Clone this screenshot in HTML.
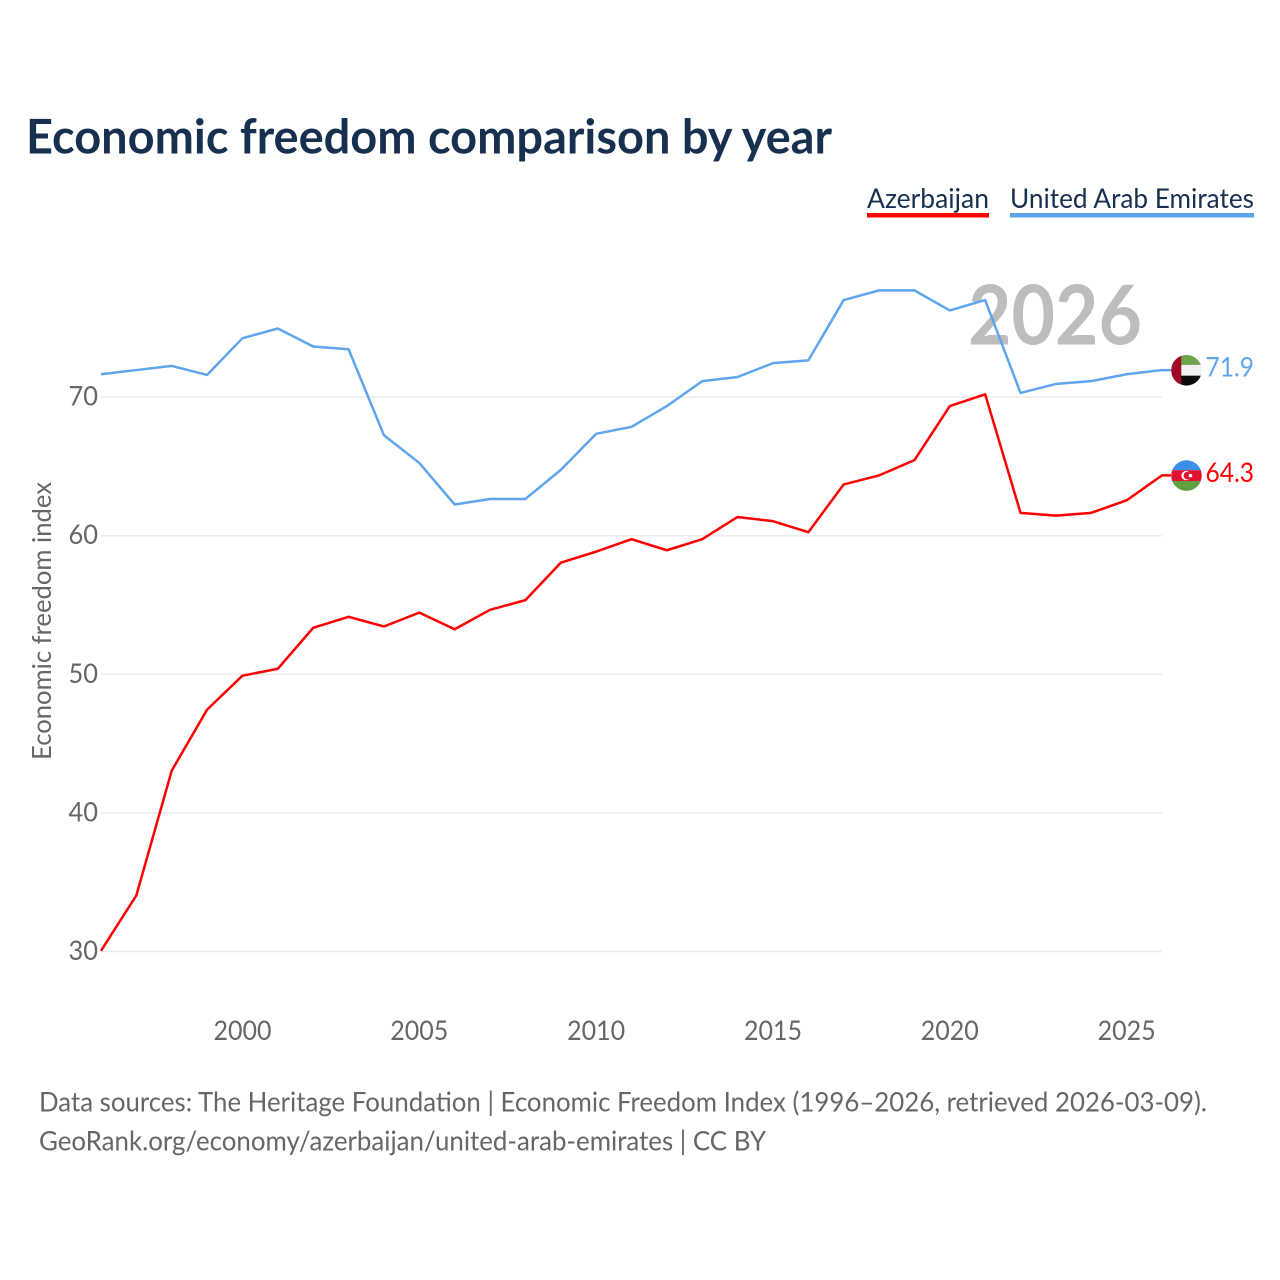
<!DOCTYPE html>
<html lang="en">
<head>
<meta charset="utf-8">
<title>Economic freedom comparison by year</title>
<style>
html,body{margin:0;padding:0;background:#fff;}
svg{display:block;}
text{font-family:"Lato","Carlito","Liberation Sans",sans-serif;}
</style>
</head>
<body>
<svg id="chart" xmlns="http://www.w3.org/2000/svg" width="1280" height="1280" viewBox="0 0 1280 1280">
  <defs>
    <clipPath id="uae-clip"><circle id="uae-clip-circle" r="15.3" cx="0" cy="0"/></clipPath>
    <clipPath id="aze-clip"><circle id="aze-clip-circle" r="15.3" cx="0" cy="0"/></clipPath>
  </defs>
  <rect width="1280" height="1280" fill="#fff"/>
  <text x="26" y="153.5" font-size="48" font-weight="700" fill="#18304f" textLength="806" lengthAdjust="spacingAndGlyphs">Economic freedom comparison by year</text>

  <g>
    <g>
      <text x="867" y="208" font-size="27.5" fill="#18304f" textLength="122" lengthAdjust="spacingAndGlyphs">Azerbaijan</text>
      <rect x="867" y="213" width="122" height="4.5" fill="#ff0000"/>
    </g>
    <g>
      <text x="1010" y="208" font-size="27.5" fill="#18304f" textLength="244" lengthAdjust="spacingAndGlyphs">United Arab Emirates</text>
      <rect x="1010" y="213" width="244" height="4.5" fill="#5fa5ee"/>
    </g>
  </g>

  <text transform="translate(51 621) rotate(-90)" text-anchor="middle" font-size="26.5" fill="#666" textLength="278" lengthAdjust="spacingAndGlyphs">Economic freedom index</text>

  <g id="grid"></g>
  <g id="y-ticks"></g>
  <g id="x-ticks"></g>

  <text id="year-label" x="1055" y="344.5" text-anchor="middle" font-size="82" font-weight="700" fill="#bdbdbd" textLength="174" lengthAdjust="spacingAndGlyphs">2026</text>

  <path id="line-aze" fill="none" stroke="#ff0000" stroke-width="2.5" stroke-linejoin="round" transform="translate(0 -0.7)"/>
  <path id="line-uae" fill="none" stroke="#5fa5ee" stroke-width="2.5" stroke-linejoin="round" transform="translate(0 -0.7)"/>

  <g id="flag-uae">
    <g clip-path="url(#uae-clip)">
      <rect x="-16" y="-16" width="32" height="32" fill="#f2f2f2"/>
      <rect x="-16" y="-16" width="32" height="10.6" fill="#6ea44a"/>
      <rect x="-16" y="5.4" width="32" height="10.6" fill="#0b0b0b"/>
      <rect x="-16" y="-16" width="10.8" height="32" fill="#a00a28"/>
    </g>
  </g>
  <g id="flag-aze">
    <g clip-path="url(#aze-clip)">
      <rect x="-16" y="-16" width="32" height="10.6" fill="#3a8fe8"/>
      <rect x="-16" y="-5.4" width="32" height="10.8" fill="#e2102f"/>
      <rect x="-16" y="5.4" width="32" height="10.6" fill="#61a03f"/>
      <circle cx="-0.5" cy="0" r="4.6" fill="#fff"/>
      <circle cx="0.8" cy="0" r="3.7" fill="#e2102f"/>
      <circle cx="4" cy="0" r="1.8" fill="#fff"/>
    </g>
  </g>
  <text id="value-uae" x="1205.5" font-size="27" fill="#5fa5ee" textLength="48.5" lengthAdjust="spacingAndGlyphs"></text>
  <text id="value-aze" x="1205.5" font-size="27" fill="#ff0000" textLength="48.5" lengthAdjust="spacingAndGlyphs"></text>

  <g>
    <text x="39" y="1111.5" font-size="27.5" fill="#666" textLength="1168" lengthAdjust="spacingAndGlyphs">Data sources: The Heritage Foundation | Economic Freedom Index (1996–2026, retrieved 2026-03-09).</text>
    <text x="39" y="1150.5" font-size="27.5" fill="#666" textLength="727" lengthAdjust="spacingAndGlyphs">GeoRank.org/economy/azerbaijan/united-arab-emirates | CC BY</text>
  </g>
</svg>
<script>
const years = [1996,1997,1998,1999,2000,2001,2002,2003,2004,2005,2006,2007,2008,2009,2010,2011,2012,2013,2014,2015,2016,2017,2018,2019,2020,2021,2022,2023,2024,2025,2026];
const azerbaijan = [30,34,43,47.4,49.85,50.35,53.3,54.1,53.4,54.4,53.2,54.6,55.3,58,58.8,59.7,58.9,59.7,61.3,61,60.2,63.65,64.3,65.4,69.3,70.15,61.6,61.4,61.6,62.5,64.3];
const uae = [71.6,71.9,72.2,71.55,74.2,74.9,73.6,73.4,67.2,65.2,62.2,62.6,62.6,64.7,67.3,67.8,69.3,71.1,71.4,72.4,72.6,76.95,77.65,77.65,76.2,76.95,70.25,70.9,71.1,71.6,71.9];
const yTicks = [30,40,50,60,70];
const xTicks = [2000,2005,2010,2015,2020,2025];

const SVG_NS = 'http://www.w3.org/2000/svg';
const xScale = function (year) { return 101 + (year - 1996) * (1162 - 101) / 30; };
const yScale = function (value) { return 951.5 - (value - 30) * 13.86; };

const gridGroup = document.getElementById('grid');
const yTickGroup = document.getElementById('y-ticks');
const xTickGroup = document.getElementById('x-ticks');

yTicks.forEach(function (tick) {
  const line = document.createElementNS(SVG_NS, 'line');
  
  
  line.setAttribute('x1', 101);
  line.setAttribute('x2', 1162);
  line.setAttribute('y1', yScale(tick));
  line.setAttribute('y2', yScale(tick));
  line.setAttribute('stroke', '#ececec');
  line.setAttribute('stroke-width', '1.5');
  gridGroup.appendChild(line);

  const label = document.createElementNS(SVG_NS, 'text');
  
  
  label.setAttribute('x', 98);
  label.setAttribute('y', yScale(tick) + 8.5);
  label.setAttribute('text-anchor', 'end');
  label.setAttribute('font-size', '27');
  label.setAttribute('fill', '#666');
  label.setAttribute('textLength', '29.5');
  label.setAttribute('lengthAdjust', 'spacingAndGlyphs');
  label.textContent = tick;
  yTickGroup.appendChild(label);
});

xTicks.forEach(function (tick) {
  const label = document.createElementNS(SVG_NS, 'text');
  
  
  label.setAttribute('x', xScale(tick));
  label.setAttribute('y', 1040);
  label.setAttribute('text-anchor', 'middle');
  label.setAttribute('font-size', '27');
  label.setAttribute('fill', '#666');
  label.setAttribute('textLength', '58');
  label.setAttribute('lengthAdjust', 'spacingAndGlyphs');
  label.textContent = tick;
  xTickGroup.appendChild(label);
});

function linePath(values) {
  let d = values.map(function (value, i) {
    return (i === 0 ? 'M' : 'L') + xScale(years[i]).toFixed(2) + ' ' + yScale(value).toFixed(2);
  }).join(' ');
  const last = values[values.length - 1];
  d += ' L' + (xScale(years[years.length - 1]) + 9) + ' ' + yScale(last).toFixed(2);
  return d;
}

document.getElementById('line-aze').setAttribute('d', linePath(azerbaijan));
document.getElementById('line-uae').setAttribute('d', linePath(uae));

const lastAze = azerbaijan[azerbaijan.length - 1];
const lastUae = uae[uae.length - 1];
const flagX = xScale(years[years.length - 1]) + 24.5;

document.getElementById('flag-aze').setAttribute('transform', 'translate(' + flagX + ' ' + (yScale(lastAze) - 0.5) + ')');
document.getElementById('flag-uae').setAttribute('transform', 'translate(' + flagX + ' ' + (yScale(lastUae) - 0.5) + ')');

const valueAze = document.getElementById('value-aze');
valueAze.setAttribute('y', yScale(lastAze) + 6);
valueAze.textContent = lastAze.toFixed(1);
const valueUae = document.getElementById('value-uae');
valueUae.setAttribute('y', yScale(lastUae) + 5.5);
valueUae.textContent = lastUae.toFixed(1);
document.getElementById('year-label').textContent = years[years.length - 1];
</script>
</body>
</html>
